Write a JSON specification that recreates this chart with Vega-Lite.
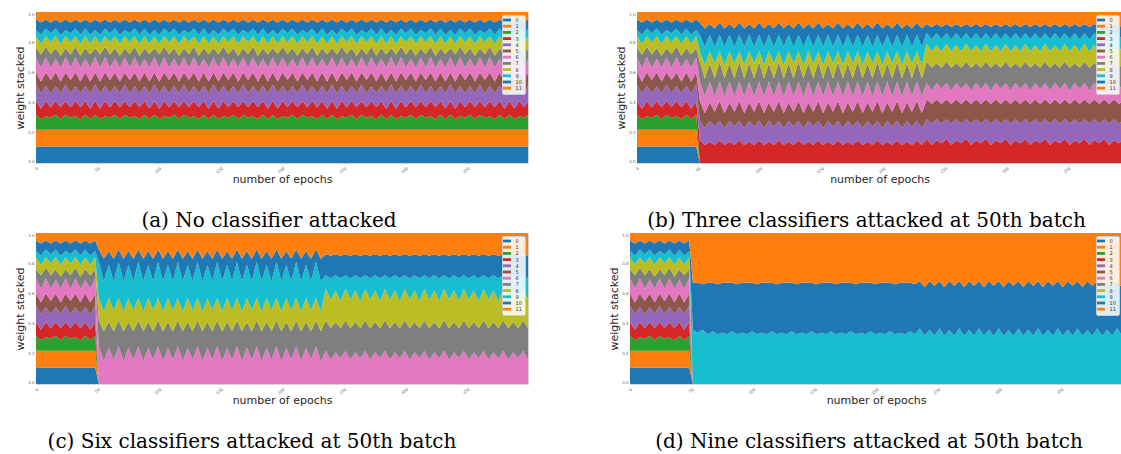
{
"$schema": "https://vega.github.io/schema/vega-lite/v6.json",
"autosize": {"type": "pad"},
"padding": {"left": 13, "top": 11, "right": 0, "bottom": 0},
"background": "white",
"data": {"values": [
{"p":"a","t":0,"a":11,"b":11,"c":10,"d":9,"e":11,"f":8,"g":10,"h":6,"i":8,"j":4,"k":7,"l":5},
{"p":"a","t":4,"a":11,"b":11,"c":7,"d":7,"e":10,"f":8,"g":9,"h":9,"i":7,"j":6,"k":8,"l":7},
{"p":"a","t":8,"a":11,"b":11,"c":9,"d":10,"e":10,"f":9,"g":10,"h":7,"i":7,"j":5,"k":6,"l":5},
{"p":"a","t":12,"a":11,"b":11,"c":8,"d":7,"e":9,"f":9,"g":8,"h":9,"i":8,"j":6,"k":7,"l":7},
{"p":"a","t":16,"a":11,"b":11,"c":10,"d":9,"e":10,"f":9,"g":9,"h":7,"i":8,"j":5,"k":6,"l":5},
{"p":"a","t":20,"a":11,"b":11,"c":7,"d":8,"e":9,"f":8,"g":9,"h":8,"i":8,"j":6,"k":8,"l":7},
{"p":"a","t":24,"a":11,"b":11,"c":10,"d":9,"e":11,"f":8,"g":10,"h":6,"i":8,"j":4,"k":7,"l":5},
{"p":"a","t":28,"a":11,"b":11,"c":8,"d":7,"e":9,"f":9,"g":8,"h":9,"i":8,"j":6,"k":7,"l":7},
{"p":"a","t":32,"a":11,"b":11,"c":9,"d":10,"e":10,"f":9,"g":10,"h":7,"i":7,"j":5,"k":6,"l":5},
{"p":"a","t":36,"a":11,"b":11,"c":7,"d":8,"e":9,"f":8,"g":9,"h":8,"i":8,"j":6,"k":8,"l":7},
{"p":"a","t":40,"a":11,"b":11,"c":10,"d":9,"e":10,"f":9,"g":9,"h":7,"i":8,"j":5,"k":6,"l":5},
{"p":"a","t":44,"a":11,"b":11,"c":7,"d":7,"e":10,"f":8,"g":9,"h":9,"i":7,"j":6,"k":8,"l":7},
{"p":"a","t":48,"a":11,"b":11,"c":10,"d":9,"e":11,"f":8,"g":10,"h":6,"i":8,"j":4,"k":7,"l":5},
{"p":"a","t":52,"a":11,"b":11,"c":7,"d":7,"e":10,"f":8,"g":9,"h":9,"i":7,"j":6,"k":8,"l":7},
{"p":"a","t":56,"a":11,"b":11,"c":9,"d":10,"e":10,"f":9,"g":10,"h":7,"i":7,"j":5,"k":6,"l":5},
{"p":"a","t":60,"a":11,"b":11,"c":8,"d":7,"e":9,"f":9,"g":8,"h":9,"i":8,"j":6,"k":7,"l":7},
{"p":"a","t":64,"a":11,"b":11,"c":10,"d":9,"e":10,"f":9,"g":9,"h":7,"i":8,"j":5,"k":6,"l":5},
{"p":"a","t":68,"a":11,"b":11,"c":7,"d":8,"e":9,"f":8,"g":9,"h":8,"i":8,"j":6,"k":8,"l":7},
{"p":"a","t":72,"a":11,"b":11,"c":10,"d":9,"e":11,"f":8,"g":10,"h":6,"i":8,"j":4,"k":7,"l":5},
{"p":"a","t":76,"a":11,"b":11,"c":8,"d":7,"e":9,"f":9,"g":8,"h":9,"i":8,"j":6,"k":7,"l":7},
{"p":"a","t":80,"a":11,"b":11,"c":9,"d":10,"e":10,"f":9,"g":10,"h":7,"i":7,"j":5,"k":6,"l":5},
{"p":"a","t":84,"a":11,"b":11,"c":7,"d":8,"e":9,"f":8,"g":9,"h":8,"i":8,"j":6,"k":8,"l":7},
{"p":"a","t":88,"a":11,"b":11,"c":10,"d":9,"e":10,"f":9,"g":9,"h":7,"i":8,"j":5,"k":6,"l":5},
{"p":"a","t":92,"a":11,"b":11,"c":7,"d":7,"e":10,"f":8,"g":9,"h":9,"i":7,"j":6,"k":8,"l":7},
{"p":"a","t":96,"a":11,"b":11,"c":10,"d":9,"e":11,"f":8,"g":10,"h":6,"i":8,"j":4,"k":7,"l":5},
{"p":"a","t":100,"a":11,"b":11,"c":7,"d":7,"e":10,"f":8,"g":9,"h":9,"i":7,"j":6,"k":8,"l":7},
{"p":"a","t":104,"a":11,"b":11,"c":9,"d":10,"e":10,"f":9,"g":10,"h":7,"i":7,"j":5,"k":6,"l":5},
{"p":"a","t":108,"a":11,"b":11,"c":8,"d":7,"e":9,"f":9,"g":8,"h":9,"i":8,"j":6,"k":7,"l":7},
{"p":"a","t":112,"a":11,"b":11,"c":10,"d":9,"e":10,"f":9,"g":9,"h":7,"i":8,"j":5,"k":6,"l":5},
{"p":"a","t":116,"a":11,"b":11,"c":7,"d":8,"e":9,"f":8,"g":9,"h":8,"i":8,"j":6,"k":8,"l":7},
{"p":"a","t":120,"a":11,"b":11,"c":10,"d":9,"e":11,"f":8,"g":10,"h":6,"i":8,"j":4,"k":7,"l":5},
{"p":"a","t":124,"a":11,"b":11,"c":8,"d":7,"e":9,"f":9,"g":8,"h":9,"i":8,"j":6,"k":7,"l":7},
{"p":"a","t":128,"a":11,"b":11,"c":9,"d":10,"e":10,"f":9,"g":10,"h":7,"i":7,"j":5,"k":6,"l":5},
{"p":"a","t":132,"a":11,"b":11,"c":7,"d":8,"e":9,"f":8,"g":9,"h":8,"i":8,"j":6,"k":8,"l":7},
{"p":"a","t":136,"a":11,"b":11,"c":10,"d":9,"e":10,"f":9,"g":9,"h":7,"i":8,"j":5,"k":6,"l":5},
{"p":"a","t":140,"a":11,"b":11,"c":7,"d":7,"e":10,"f":8,"g":9,"h":9,"i":7,"j":6,"k":8,"l":7},
{"p":"a","t":144,"a":11,"b":11,"c":10,"d":9,"e":11,"f":8,"g":10,"h":6,"i":8,"j":4,"k":7,"l":5},
{"p":"a","t":148,"a":11,"b":11,"c":7,"d":7,"e":10,"f":8,"g":9,"h":9,"i":7,"j":6,"k":8,"l":7},
{"p":"a","t":152,"a":11,"b":11,"c":9,"d":10,"e":10,"f":9,"g":10,"h":7,"i":7,"j":5,"k":6,"l":5},
{"p":"a","t":156,"a":11,"b":11,"c":8,"d":7,"e":9,"f":9,"g":8,"h":9,"i":8,"j":6,"k":7,"l":7},
{"p":"a","t":160,"a":11,"b":11,"c":10,"d":9,"e":10,"f":9,"g":9,"h":7,"i":8,"j":5,"k":6,"l":5},
{"p":"a","t":164,"a":11,"b":11,"c":7,"d":8,"e":9,"f":8,"g":9,"h":8,"i":8,"j":6,"k":8,"l":7},
{"p":"a","t":168,"a":11,"b":11,"c":10,"d":9,"e":11,"f":8,"g":10,"h":6,"i":8,"j":4,"k":7,"l":5},
{"p":"a","t":172,"a":11,"b":11,"c":8,"d":7,"e":9,"f":9,"g":8,"h":9,"i":8,"j":6,"k":7,"l":7},
{"p":"a","t":176,"a":11,"b":11,"c":9,"d":10,"e":10,"f":9,"g":10,"h":7,"i":7,"j":5,"k":6,"l":5},
{"p":"a","t":180,"a":11,"b":11,"c":7,"d":8,"e":9,"f":8,"g":9,"h":8,"i":8,"j":6,"k":8,"l":7},
{"p":"a","t":184,"a":11,"b":11,"c":10,"d":9,"e":10,"f":9,"g":9,"h":7,"i":8,"j":5,"k":6,"l":5},
{"p":"a","t":188,"a":11,"b":11,"c":7,"d":7,"e":10,"f":8,"g":9,"h":9,"i":7,"j":6,"k":8,"l":7},
{"p":"a","t":192,"a":11,"b":11,"c":10,"d":9,"e":11,"f":8,"g":10,"h":6,"i":8,"j":4,"k":7,"l":5},
{"p":"a","t":196,"a":11,"b":11,"c":7,"d":7,"e":10,"f":8,"g":9,"h":9,"i":7,"j":6,"k":8,"l":7},
{"p":"a","t":200,"a":11,"b":11,"c":9,"d":10,"e":10,"f":9,"g":10,"h":7,"i":7,"j":5,"k":6,"l":5},
{"p":"a","t":204,"a":11,"b":11,"c":8,"d":7,"e":9,"f":9,"g":8,"h":9,"i":8,"j":6,"k":7,"l":7},
{"p":"a","t":208,"a":11,"b":11,"c":10,"d":9,"e":10,"f":9,"g":9,"h":7,"i":8,"j":5,"k":6,"l":5},
{"p":"a","t":212,"a":11,"b":11,"c":7,"d":8,"e":9,"f":8,"g":9,"h":8,"i":8,"j":6,"k":8,"l":7},
{"p":"a","t":216,"a":11,"b":11,"c":10,"d":9,"e":11,"f":8,"g":10,"h":6,"i":8,"j":4,"k":7,"l":5},
{"p":"a","t":220,"a":11,"b":11,"c":8,"d":7,"e":9,"f":9,"g":8,"h":9,"i":8,"j":6,"k":7,"l":7},
{"p":"a","t":224,"a":11,"b":11,"c":9,"d":10,"e":10,"f":9,"g":10,"h":7,"i":7,"j":5,"k":6,"l":5},
{"p":"a","t":228,"a":11,"b":11,"c":7,"d":8,"e":9,"f":8,"g":9,"h":8,"i":8,"j":6,"k":8,"l":7},
{"p":"a","t":232,"a":11,"b":11,"c":10,"d":9,"e":10,"f":9,"g":9,"h":7,"i":8,"j":5,"k":6,"l":5},
{"p":"a","t":236,"a":11,"b":11,"c":7,"d":7,"e":10,"f":8,"g":9,"h":9,"i":7,"j":6,"k":8,"l":7},
{"p":"a","t":240,"a":11,"b":11,"c":10,"d":9,"e":11,"f":8,"g":10,"h":6,"i":8,"j":4,"k":7,"l":5},
{"p":"a","t":244,"a":11,"b":11,"c":7,"d":7,"e":10,"f":8,"g":9,"h":9,"i":7,"j":6,"k":8,"l":7},
{"p":"a","t":248,"a":11,"b":11,"c":9,"d":10,"e":10,"f":9,"g":10,"h":7,"i":7,"j":5,"k":6,"l":5},
{"p":"a","t":252,"a":11,"b":11,"c":8,"d":7,"e":9,"f":9,"g":8,"h":9,"i":8,"j":6,"k":7,"l":7},
{"p":"a","t":256,"a":11,"b":11,"c":10,"d":9,"e":10,"f":9,"g":9,"h":7,"i":8,"j":5,"k":6,"l":5},
{"p":"a","t":260,"a":11,"b":11,"c":7,"d":8,"e":9,"f":8,"g":9,"h":8,"i":8,"j":6,"k":8,"l":7},
{"p":"a","t":264,"a":11,"b":11,"c":10,"d":9,"e":11,"f":8,"g":10,"h":6,"i":8,"j":4,"k":7,"l":5},
{"p":"a","t":268,"a":11,"b":11,"c":8,"d":7,"e":9,"f":9,"g":8,"h":9,"i":8,"j":6,"k":7,"l":7},
{"p":"a","t":272,"a":11,"b":11,"c":9,"d":10,"e":10,"f":9,"g":10,"h":7,"i":7,"j":5,"k":6,"l":5},
{"p":"a","t":276,"a":11,"b":11,"c":7,"d":8,"e":9,"f":8,"g":9,"h":8,"i":8,"j":6,"k":8,"l":7},
{"p":"a","t":280,"a":11,"b":11,"c":10,"d":9,"e":10,"f":9,"g":9,"h":7,"i":8,"j":5,"k":6,"l":5},
{"p":"a","t":284,"a":11,"b":11,"c":7,"d":7,"e":10,"f":8,"g":9,"h":9,"i":7,"j":6,"k":8,"l":7},
{"p":"a","t":288,"a":11,"b":11,"c":10,"d":9,"e":11,"f":8,"g":10,"h":6,"i":8,"j":4,"k":7,"l":5},
{"p":"a","t":292,"a":11,"b":11,"c":7,"d":7,"e":10,"f":8,"g":9,"h":9,"i":7,"j":6,"k":8,"l":7},
{"p":"a","t":296,"a":11,"b":11,"c":9,"d":10,"e":10,"f":9,"g":10,"h":7,"i":7,"j":5,"k":6,"l":5},
{"p":"a","t":300,"a":11,"b":11,"c":8,"d":7,"e":9,"f":9,"g":8,"h":9,"i":8,"j":6,"k":7,"l":7},
{"p":"a","t":304,"a":11,"b":11,"c":10,"d":9,"e":10,"f":9,"g":9,"h":7,"i":8,"j":5,"k":6,"l":5},
{"p":"a","t":308,"a":11,"b":11,"c":7,"d":8,"e":9,"f":8,"g":9,"h":8,"i":8,"j":6,"k":8,"l":7},
{"p":"a","t":312,"a":11,"b":11,"c":10,"d":9,"e":11,"f":8,"g":10,"h":6,"i":8,"j":4,"k":7,"l":5},
{"p":"a","t":316,"a":11,"b":11,"c":8,"d":7,"e":9,"f":9,"g":8,"h":9,"i":8,"j":6,"k":7,"l":7},
{"p":"a","t":320,"a":11,"b":11,"c":9,"d":10,"e":10,"f":9,"g":10,"h":7,"i":7,"j":5,"k":6,"l":5},
{"p":"a","t":324,"a":11,"b":11,"c":7,"d":8,"e":9,"f":8,"g":9,"h":8,"i":8,"j":6,"k":8,"l":7},
{"p":"a","t":328,"a":11,"b":11,"c":10,"d":9,"e":10,"f":9,"g":9,"h":7,"i":8,"j":5,"k":6,"l":5},
{"p":"a","t":332,"a":11,"b":11,"c":7,"d":7,"e":10,"f":8,"g":9,"h":9,"i":7,"j":6,"k":8,"l":7},
{"p":"a","t":336,"a":11,"b":11,"c":10,"d":9,"e":11,"f":8,"g":10,"h":6,"i":8,"j":4,"k":7,"l":5},
{"p":"a","t":340,"a":11,"b":11,"c":7,"d":7,"e":10,"f":8,"g":9,"h":9,"i":7,"j":6,"k":8,"l":7},
{"p":"a","t":344,"a":11,"b":11,"c":9,"d":10,"e":10,"f":9,"g":10,"h":7,"i":7,"j":5,"k":6,"l":5},
{"p":"a","t":348,"a":11,"b":11,"c":8,"d":7,"e":9,"f":9,"g":8,"h":9,"i":8,"j":6,"k":7,"l":7},
{"p":"a","t":352,"a":11,"b":11,"c":10,"d":9,"e":10,"f":9,"g":9,"h":7,"i":8,"j":5,"k":6,"l":5},
{"p":"a","t":356,"a":11,"b":11,"c":7,"d":8,"e":9,"f":8,"g":9,"h":8,"i":8,"j":6,"k":8,"l":7},
{"p":"a","t":360,"a":11,"b":11,"c":10,"d":9,"e":11,"f":8,"g":10,"h":6,"i":8,"j":4,"k":7,"l":5},
{"p":"a","t":364,"a":11,"b":11,"c":8,"d":7,"e":9,"f":9,"g":8,"h":9,"i":8,"j":6,"k":7,"l":7},
{"p":"a","t":368,"a":11,"b":11,"c":9,"d":10,"e":10,"f":9,"g":10,"h":7,"i":7,"j":5,"k":6,"l":5},
{"p":"a","t":372,"a":11,"b":11,"c":7,"d":8,"e":9,"f":8,"g":9,"h":8,"i":8,"j":6,"k":8,"l":7},
{"p":"a","t":376,"a":11,"b":11,"c":10,"d":9,"e":10,"f":9,"g":9,"h":7,"i":8,"j":5,"k":6,"l":5},
{"p":"a","t":380,"a":11,"b":11,"c":7,"d":7,"e":10,"f":8,"g":9,"h":9,"i":7,"j":6,"k":8,"l":7},
{"p":"a","t":384,"a":11,"b":11,"c":10,"d":9,"e":11,"f":8,"g":10,"h":6,"i":8,"j":4,"k":7,"l":5},
{"p":"a","t":388,"a":11,"b":11,"c":7,"d":7,"e":10,"f":8,"g":9,"h":9,"i":7,"j":6,"k":8,"l":7},
{"p":"a","t":392,"a":11,"b":11,"c":9,"d":10,"e":10,"f":9,"g":10,"h":7,"i":7,"j":5,"k":6,"l":5},
{"p":"a","t":396,"a":11,"b":11,"c":8,"d":7,"e":9,"f":9,"g":8,"h":9,"i":8,"j":6,"k":7,"l":7},
{"p":"a","t":399,"a":11,"b":11,"c":10,"d":9,"e":10,"f":9,"g":9,"h":7,"i":8,"j":5,"k":6,"l":5},
{"p":"b","t":51,"d":15,"e":13,"f":13,"g":13,"h":13,"i":7,"j":11,"k":8,"l":7},
{"p":"b","t":55,"d":12,"e":11,"f":10,"g":11,"h":12,"i":9,"j":12,"k":12,"l":11},
{"p":"b","t":59,"d":14,"e":14,"f":12,"g":14,"h":12,"i":8,"j":11,"k":7,"l":8},
{"p":"b","t":63,"d":12,"e":12,"f":10,"g":10,"h":12,"i":10,"j":11,"k":12,"l":11},
{"p":"b","t":67,"d":15,"e":13,"f":13,"g":13,"h":13,"i":7,"j":11,"k":8,"l":7},
{"p":"b","t":71,"d":12,"e":11,"f":10,"g":11,"h":12,"i":9,"j":12,"k":12,"l":11},
{"p":"b","t":75,"d":14,"e":14,"f":12,"g":14,"h":12,"i":8,"j":11,"k":7,"l":8},
{"p":"b","t":79,"d":12,"e":12,"f":10,"g":10,"h":12,"i":10,"j":11,"k":12,"l":11},
{"p":"b","t":83,"d":15,"e":13,"f":13,"g":13,"h":13,"i":7,"j":11,"k":8,"l":7},
{"p":"b","t":87,"d":12,"e":11,"f":10,"g":11,"h":12,"i":9,"j":12,"k":12,"l":11},
{"p":"b","t":91,"d":14,"e":14,"f":12,"g":14,"h":12,"i":8,"j":11,"k":7,"l":8},
{"p":"b","t":95,"d":12,"e":12,"f":10,"g":10,"h":12,"i":10,"j":11,"k":12,"l":11},
{"p":"b","t":99,"d":15,"e":13,"f":13,"g":13,"h":13,"i":7,"j":11,"k":8,"l":7},
{"p":"b","t":103,"d":12,"e":11,"f":10,"g":11,"h":12,"i":9,"j":12,"k":12,"l":11},
{"p":"b","t":107,"d":14,"e":14,"f":12,"g":14,"h":12,"i":8,"j":11,"k":7,"l":8},
{"p":"b","t":111,"d":12,"e":12,"f":10,"g":10,"h":12,"i":10,"j":11,"k":12,"l":11},
{"p":"b","t":115,"d":15,"e":13,"f":13,"g":13,"h":13,"i":7,"j":11,"k":8,"l":7},
{"p":"b","t":119,"d":12,"e":11,"f":10,"g":11,"h":12,"i":9,"j":12,"k":12,"l":11},
{"p":"b","t":123,"d":14,"e":14,"f":12,"g":14,"h":12,"i":8,"j":11,"k":7,"l":8},
{"p":"b","t":127,"d":12,"e":12,"f":10,"g":10,"h":12,"i":10,"j":11,"k":12,"l":11},
{"p":"b","t":131,"d":15,"e":13,"f":13,"g":13,"h":13,"i":7,"j":11,"k":8,"l":7},
{"p":"b","t":135,"d":12,"e":11,"f":10,"g":11,"h":12,"i":9,"j":12,"k":12,"l":11},
{"p":"b","t":139,"d":14,"e":14,"f":12,"g":14,"h":12,"i":8,"j":11,"k":7,"l":8},
{"p":"b","t":143,"d":12,"e":12,"f":10,"g":10,"h":12,"i":10,"j":11,"k":12,"l":11},
{"p":"b","t":147,"d":15,"e":13,"f":13,"g":13,"h":13,"i":7,"j":11,"k":8,"l":7},
{"p":"b","t":151,"d":12,"e":11,"f":10,"g":11,"h":12,"i":9,"j":12,"k":12,"l":11},
{"p":"b","t":155,"d":14,"e":14,"f":12,"g":14,"h":12,"i":8,"j":11,"k":7,"l":8},
{"p":"b","t":159,"d":12,"e":12,"f":10,"g":10,"h":12,"i":10,"j":11,"k":12,"l":11},
{"p":"b","t":163,"d":15,"e":13,"f":13,"g":13,"h":13,"i":7,"j":11,"k":8,"l":7},
{"p":"b","t":167,"d":12,"e":11,"f":10,"g":11,"h":12,"i":9,"j":12,"k":12,"l":11},
{"p":"b","t":171,"d":14,"e":14,"f":12,"g":14,"h":12,"i":8,"j":11,"k":7,"l":8},
{"p":"b","t":175,"d":12,"e":12,"f":10,"g":10,"h":12,"i":10,"j":11,"k":12,"l":11},
{"p":"b","t":179,"d":15,"e":13,"f":13,"g":13,"h":13,"i":7,"j":11,"k":8,"l":7},
{"p":"b","t":183,"d":12,"e":11,"f":10,"g":11,"h":12,"i":9,"j":12,"k":12,"l":11},
{"p":"b","t":187,"d":14,"e":14,"f":12,"g":14,"h":12,"i":8,"j":11,"k":7,"l":8},
{"p":"b","t":191,"d":12,"e":12,"f":10,"g":10,"h":12,"i":10,"j":11,"k":12,"l":11},
{"p":"b","t":195,"d":15,"e":13,"f":13,"g":13,"h":13,"i":7,"j":11,"k":8,"l":7},
{"p":"b","t":199,"d":12,"e":11,"f":10,"g":11,"h":12,"i":9,"j":12,"k":12,"l":11},
{"p":"b","t":203,"d":14,"e":14,"f":12,"g":14,"h":12,"i":8,"j":11,"k":7,"l":8},
{"p":"b","t":207,"d":12,"e":12,"f":10,"g":10,"h":12,"i":10,"j":11,"k":12,"l":11},
{"p":"b","t":211,"d":15,"e":13,"f":13,"g":13,"h":13,"i":7,"j":11,"k":8,"l":7},
{"p":"b","t":215,"d":12,"e":11,"f":10,"g":11,"h":12,"i":9,"j":12,"k":12,"l":11},
{"p":"b","t":219,"d":14,"e":14,"f":12,"g":14,"h":12,"i":8,"j":11,"k":7,"l":8},
{"p":"b","t":223,"d":12,"e":12,"f":10,"g":10,"h":12,"i":10,"j":11,"k":12,"l":11},
{"p":"b","t":227,"d":15,"e":13,"f":13,"g":13,"h":13,"i":7,"j":11,"k":8,"l":7},
{"p":"b","t":231,"d":12,"e":11,"f":10,"g":11,"h":12,"i":9,"j":12,"k":12,"l":11},
{"p":"b","t":235,"d":16,"e":13,"f":13,"g":11,"h":14,"i":12,"j":7,"k":6,"l":8},
{"p":"b","t":239,"d":12,"e":14,"f":13,"g":9,"h":15,"i":11,"j":8,"k":8,"l":10},
{"p":"b","t":243,"d":15,"e":14,"f":13,"g":11,"h":13,"i":12,"j":8,"k":6,"l":8},
{"p":"b","t":247,"d":13,"e":13,"f":13,"g":10,"h":14,"i":11,"j":8,"k":8,"l":10},
{"p":"b","t":251,"d":16,"e":13,"f":13,"g":11,"h":14,"i":12,"j":7,"k":6,"l":8},
{"p":"b","t":255,"d":12,"e":14,"f":13,"g":9,"h":15,"i":11,"j":8,"k":8,"l":10},
{"p":"b","t":259,"d":15,"e":14,"f":13,"g":11,"h":13,"i":12,"j":8,"k":6,"l":8},
{"p":"b","t":263,"d":13,"e":13,"f":13,"g":10,"h":14,"i":11,"j":8,"k":8,"l":10},
{"p":"b","t":267,"d":16,"e":13,"f":13,"g":11,"h":14,"i":12,"j":7,"k":6,"l":8},
{"p":"b","t":271,"d":12,"e":14,"f":13,"g":9,"h":15,"i":11,"j":8,"k":8,"l":10},
{"p":"b","t":275,"d":15,"e":14,"f":13,"g":11,"h":13,"i":12,"j":8,"k":6,"l":8},
{"p":"b","t":279,"d":13,"e":13,"f":13,"g":10,"h":14,"i":11,"j":8,"k":8,"l":10},
{"p":"b","t":283,"d":16,"e":13,"f":13,"g":11,"h":14,"i":12,"j":7,"k":6,"l":8},
{"p":"b","t":287,"d":12,"e":14,"f":13,"g":9,"h":15,"i":11,"j":8,"k":8,"l":10},
{"p":"b","t":291,"d":15,"e":14,"f":13,"g":11,"h":13,"i":12,"j":8,"k":6,"l":8},
{"p":"b","t":295,"d":13,"e":13,"f":13,"g":10,"h":14,"i":11,"j":8,"k":8,"l":10},
{"p":"b","t":299,"d":16,"e":13,"f":13,"g":11,"h":14,"i":12,"j":7,"k":6,"l":8},
{"p":"b","t":303,"d":12,"e":14,"f":13,"g":9,"h":15,"i":11,"j":8,"k":8,"l":10},
{"p":"b","t":307,"d":15,"e":14,"f":13,"g":11,"h":13,"i":12,"j":8,"k":6,"l":8},
{"p":"b","t":311,"d":13,"e":13,"f":13,"g":10,"h":14,"i":11,"j":8,"k":8,"l":10},
{"p":"b","t":315,"d":16,"e":13,"f":13,"g":11,"h":14,"i":12,"j":7,"k":6,"l":8},
{"p":"b","t":319,"d":12,"e":14,"f":13,"g":9,"h":15,"i":11,"j":8,"k":8,"l":10},
{"p":"b","t":323,"d":15,"e":14,"f":13,"g":11,"h":13,"i":12,"j":8,"k":6,"l":8},
{"p":"b","t":327,"d":13,"e":13,"f":13,"g":10,"h":14,"i":11,"j":8,"k":8,"l":10},
{"p":"b","t":331,"d":16,"e":13,"f":13,"g":11,"h":14,"i":12,"j":7,"k":6,"l":8},
{"p":"b","t":335,"d":12,"e":14,"f":13,"g":9,"h":15,"i":11,"j":8,"k":8,"l":10},
{"p":"b","t":339,"d":15,"e":14,"f":13,"g":11,"h":13,"i":12,"j":8,"k":6,"l":8},
{"p":"b","t":343,"d":13,"e":13,"f":13,"g":10,"h":14,"i":11,"j":8,"k":8,"l":10},
{"p":"b","t":347,"d":16,"e":13,"f":13,"g":11,"h":14,"i":12,"j":7,"k":6,"l":8},
{"p":"b","t":351,"d":12,"e":14,"f":13,"g":9,"h":15,"i":11,"j":8,"k":8,"l":10},
{"p":"b","t":355,"d":15,"e":14,"f":13,"g":11,"h":13,"i":12,"j":8,"k":6,"l":8},
{"p":"b","t":359,"d":13,"e":13,"f":13,"g":10,"h":14,"i":11,"j":8,"k":8,"l":10},
{"p":"b","t":363,"d":16,"e":13,"f":13,"g":11,"h":14,"i":12,"j":7,"k":6,"l":8},
{"p":"b","t":367,"d":12,"e":14,"f":13,"g":9,"h":15,"i":11,"j":8,"k":8,"l":10},
{"p":"b","t":371,"d":15,"e":14,"f":13,"g":11,"h":13,"i":12,"j":8,"k":6,"l":8},
{"p":"b","t":375,"d":13,"e":13,"f":13,"g":10,"h":14,"i":11,"j":8,"k":8,"l":10},
{"p":"b","t":379,"d":16,"e":13,"f":13,"g":11,"h":14,"i":12,"j":7,"k":6,"l":8},
{"p":"b","t":383,"d":12,"e":14,"f":13,"g":9,"h":15,"i":11,"j":8,"k":8,"l":10},
{"p":"b","t":387,"d":15,"e":14,"f":13,"g":11,"h":13,"i":12,"j":8,"k":6,"l":8},
{"p":"b","t":391,"d":13,"e":13,"f":13,"g":10,"h":14,"i":11,"j":8,"k":8,"l":10},
{"p":"b","t":395,"d":16,"e":13,"f":13,"g":11,"h":14,"i":12,"j":7,"k":6,"l":8},
{"p":"b","t":399,"d":12,"e":14,"f":13,"g":9,"h":15,"i":11,"j":8,"k":8,"l":10},
{"p":"c","t":51,"g":25,"h":17,"i":15,"j":24,"k":8,"l":11},
{"p":"c","t":55,"g":15,"h":20,"i":13,"j":20,"k":15,"l":17},
{"p":"c","t":59,"g":24,"h":17,"i":16,"j":22,"k":9,"l":12},
{"p":"c","t":63,"g":16,"h":19,"i":14,"j":19,"k":15,"l":17},
{"p":"c","t":67,"g":25,"h":17,"i":15,"j":24,"k":8,"l":11},
{"p":"c","t":71,"g":15,"h":20,"i":13,"j":20,"k":15,"l":17},
{"p":"c","t":75,"g":24,"h":17,"i":16,"j":22,"k":9,"l":12},
{"p":"c","t":79,"g":16,"h":19,"i":14,"j":19,"k":15,"l":17},
{"p":"c","t":83,"g":25,"h":17,"i":15,"j":24,"k":8,"l":11},
{"p":"c","t":87,"g":15,"h":20,"i":13,"j":20,"k":15,"l":17},
{"p":"c","t":91,"g":24,"h":17,"i":16,"j":22,"k":9,"l":12},
{"p":"c","t":95,"g":16,"h":19,"i":14,"j":19,"k":15,"l":17},
{"p":"c","t":99,"g":25,"h":17,"i":15,"j":24,"k":8,"l":11},
{"p":"c","t":103,"g":15,"h":20,"i":13,"j":20,"k":15,"l":17},
{"p":"c","t":107,"g":24,"h":17,"i":16,"j":22,"k":9,"l":12},
{"p":"c","t":111,"g":16,"h":19,"i":14,"j":19,"k":15,"l":17},
{"p":"c","t":115,"g":25,"h":17,"i":15,"j":24,"k":8,"l":11},
{"p":"c","t":119,"g":15,"h":20,"i":13,"j":20,"k":15,"l":17},
{"p":"c","t":123,"g":24,"h":17,"i":16,"j":22,"k":9,"l":12},
{"p":"c","t":127,"g":16,"h":19,"i":14,"j":19,"k":15,"l":17},
{"p":"c","t":131,"g":25,"h":17,"i":15,"j":24,"k":8,"l":11},
{"p":"c","t":135,"g":15,"h":20,"i":13,"j":20,"k":15,"l":17},
{"p":"c","t":139,"g":24,"h":17,"i":16,"j":22,"k":9,"l":12},
{"p":"c","t":143,"g":16,"h":19,"i":14,"j":19,"k":15,"l":17},
{"p":"c","t":147,"g":25,"h":17,"i":15,"j":24,"k":8,"l":11},
{"p":"c","t":151,"g":15,"h":20,"i":13,"j":20,"k":15,"l":17},
{"p":"c","t":155,"g":24,"h":17,"i":16,"j":22,"k":9,"l":12},
{"p":"c","t":159,"g":16,"h":19,"i":14,"j":19,"k":15,"l":17},
{"p":"c","t":163,"g":25,"h":17,"i":15,"j":24,"k":8,"l":11},
{"p":"c","t":167,"g":15,"h":20,"i":13,"j":20,"k":15,"l":17},
{"p":"c","t":171,"g":24,"h":17,"i":16,"j":22,"k":9,"l":12},
{"p":"c","t":175,"g":16,"h":19,"i":14,"j":19,"k":15,"l":17},
{"p":"c","t":179,"g":25,"h":17,"i":15,"j":24,"k":8,"l":11},
{"p":"c","t":183,"g":15,"h":20,"i":13,"j":20,"k":15,"l":17},
{"p":"c","t":187,"g":24,"h":17,"i":16,"j":22,"k":9,"l":12},
{"p":"c","t":191,"g":16,"h":19,"i":14,"j":19,"k":15,"l":17},
{"p":"c","t":195,"g":25,"h":17,"i":15,"j":24,"k":8,"l":11},
{"p":"c","t":199,"g":15,"h":20,"i":13,"j":20,"k":15,"l":17},
{"p":"c","t":203,"g":24,"h":17,"i":16,"j":22,"k":9,"l":12},
{"p":"c","t":207,"g":16,"h":19,"i":14,"j":19,"k":15,"l":17},
{"p":"c","t":211,"g":25,"h":17,"i":15,"j":24,"k":8,"l":11},
{"p":"c","t":215,"g":15,"h":20,"i":13,"j":20,"k":15,"l":17},
{"p":"c","t":219,"g":24,"h":17,"i":16,"j":22,"k":9,"l":12},
{"p":"c","t":223,"g":16,"h":19,"i":14,"j":19,"k":15,"l":17},
{"p":"c","t":227,"g":25,"h":17,"i":15,"j":24,"k":8,"l":11},
{"p":"c","t":231,"g":15,"h":20,"i":13,"j":20,"k":15,"l":17},
{"p":"c","t":235,"g":22,"h":20,"i":21,"j":9,"k":14,"l":14},
{"p":"c","t":239,"g":16,"h":21,"i":19,"j":14,"k":15,"l":15},
{"p":"c","t":243,"g":21,"h":20,"i":21,"j":10,"k":14,"l":14},
{"p":"c","t":247,"g":17,"h":20,"i":18,"j":15,"k":15,"l":15},
{"p":"c","t":251,"g":22,"h":20,"i":21,"j":9,"k":14,"l":14},
{"p":"c","t":255,"g":16,"h":21,"i":19,"j":14,"k":15,"l":15},
{"p":"c","t":259,"g":21,"h":20,"i":21,"j":10,"k":14,"l":14},
{"p":"c","t":263,"g":17,"h":20,"i":18,"j":15,"k":15,"l":15},
{"p":"c","t":267,"g":22,"h":20,"i":21,"j":9,"k":14,"l":14},
{"p":"c","t":271,"g":16,"h":21,"i":19,"j":14,"k":15,"l":15},
{"p":"c","t":275,"g":21,"h":20,"i":21,"j":10,"k":14,"l":14},
{"p":"c","t":279,"g":17,"h":20,"i":18,"j":15,"k":15,"l":15},
{"p":"c","t":283,"g":22,"h":20,"i":21,"j":9,"k":14,"l":14},
{"p":"c","t":287,"g":16,"h":21,"i":19,"j":14,"k":15,"l":15},
{"p":"c","t":291,"g":21,"h":20,"i":21,"j":10,"k":14,"l":14},
{"p":"c","t":295,"g":17,"h":20,"i":18,"j":15,"k":15,"l":15},
{"p":"c","t":299,"g":22,"h":20,"i":21,"j":9,"k":14,"l":14},
{"p":"c","t":303,"g":16,"h":21,"i":19,"j":14,"k":15,"l":15},
{"p":"c","t":307,"g":21,"h":20,"i":21,"j":10,"k":14,"l":14},
{"p":"c","t":311,"g":17,"h":20,"i":18,"j":15,"k":15,"l":15},
{"p":"c","t":315,"g":22,"h":20,"i":21,"j":9,"k":14,"l":14},
{"p":"c","t":319,"g":16,"h":21,"i":19,"j":14,"k":15,"l":15},
{"p":"c","t":323,"g":21,"h":20,"i":21,"j":10,"k":14,"l":14},
{"p":"c","t":327,"g":17,"h":20,"i":18,"j":15,"k":15,"l":15},
{"p":"c","t":331,"g":22,"h":20,"i":21,"j":9,"k":14,"l":14},
{"p":"c","t":335,"g":16,"h":21,"i":19,"j":14,"k":15,"l":15},
{"p":"c","t":339,"g":21,"h":20,"i":21,"j":10,"k":14,"l":14},
{"p":"c","t":343,"g":17,"h":20,"i":18,"j":15,"k":15,"l":15},
{"p":"c","t":347,"g":22,"h":20,"i":21,"j":9,"k":14,"l":14},
{"p":"c","t":351,"g":16,"h":21,"i":19,"j":14,"k":15,"l":15},
{"p":"c","t":355,"g":21,"h":20,"i":21,"j":10,"k":14,"l":14},
{"p":"c","t":359,"g":17,"h":20,"i":18,"j":15,"k":15,"l":15},
{"p":"c","t":363,"g":22,"h":20,"i":21,"j":9,"k":14,"l":14},
{"p":"c","t":367,"g":16,"h":21,"i":19,"j":14,"k":15,"l":15},
{"p":"c","t":371,"g":21,"h":20,"i":21,"j":10,"k":14,"l":14},
{"p":"c","t":375,"g":17,"h":20,"i":18,"j":15,"k":15,"l":15},
{"p":"c","t":379,"g":22,"h":20,"i":21,"j":9,"k":14,"l":14},
{"p":"c","t":383,"g":16,"h":21,"i":19,"j":14,"k":15,"l":15},
{"p":"c","t":387,"g":21,"h":20,"i":21,"j":10,"k":14,"l":14},
{"p":"c","t":391,"g":17,"h":20,"i":18,"j":15,"k":15,"l":15},
{"p":"c","t":395,"g":22,"h":20,"i":21,"j":9,"k":14,"l":14},
{"p":"c","t":399,"g":16,"h":21,"i":19,"j":14,"k":15,"l":15},
{"p":"d","t":51,"j":36,"k":31,"l":33},
{"p":"d","t":55,"j":34,"k":33,"l":33},
{"p":"d","t":59,"j":36,"k":30,"l":34},
{"p":"d","t":63,"j":33,"k":34,"l":33},
{"p":"d","t":67,"j":35,"k":32,"l":33},
{"p":"d","t":71,"j":33,"k":33,"l":34},
{"p":"d","t":75,"j":34,"k":33,"l":33},
{"p":"d","t":79,"j":33,"k":34,"l":33},
{"p":"d","t":83,"j":35,"k":32,"l":33},
{"p":"d","t":87,"j":33,"k":33,"l":34},
{"p":"d","t":91,"j":34,"k":33,"l":33},
{"p":"d","t":95,"j":33,"k":34,"l":33},
{"p":"d","t":99,"j":35,"k":32,"l":33},
{"p":"d","t":103,"j":33,"k":33,"l":34},
{"p":"d","t":107,"j":34,"k":33,"l":33},
{"p":"d","t":111,"j":33,"k":34,"l":33},
{"p":"d","t":115,"j":35,"k":32,"l":33},
{"p":"d","t":119,"j":33,"k":33,"l":34},
{"p":"d","t":123,"j":34,"k":33,"l":33},
{"p":"d","t":127,"j":33,"k":34,"l":33},
{"p":"d","t":131,"j":35,"k":32,"l":33},
{"p":"d","t":135,"j":33,"k":33,"l":34},
{"p":"d","t":139,"j":34,"k":33,"l":33},
{"p":"d","t":143,"j":33,"k":34,"l":33},
{"p":"d","t":147,"j":35,"k":32,"l":33},
{"p":"d","t":151,"j":33,"k":33,"l":34},
{"p":"d","t":155,"j":34,"k":33,"l":33},
{"p":"d","t":159,"j":33,"k":34,"l":33},
{"p":"d","t":163,"j":35,"k":32,"l":33},
{"p":"d","t":167,"j":33,"k":33,"l":34},
{"p":"d","t":171,"j":34,"k":33,"l":33},
{"p":"d","t":175,"j":33,"k":34,"l":33},
{"p":"d","t":179,"j":35,"k":32,"l":33},
{"p":"d","t":183,"j":33,"k":33,"l":34},
{"p":"d","t":187,"j":34,"k":33,"l":33},
{"p":"d","t":191,"j":33,"k":34,"l":33},
{"p":"d","t":195,"j":35,"k":32,"l":33},
{"p":"d","t":199,"j":33,"k":33,"l":34},
{"p":"d","t":203,"j":34,"k":33,"l":33},
{"p":"d","t":207,"j":33,"k":34,"l":33},
{"p":"d","t":211,"j":35,"k":32,"l":33},
{"p":"d","t":215,"j":33,"k":33,"l":34},
{"p":"d","t":219,"j":34,"k":33,"l":33},
{"p":"d","t":223,"j":33,"k":34,"l":33},
{"p":"d","t":227,"j":35,"k":32,"l":33},
{"p":"d","t":231,"j":33,"k":33,"l":34},
{"p":"d","t":235,"j":37,"k":31,"l":32},
{"p":"d","t":239,"j":32,"k":32,"l":36},
{"p":"d","t":243,"j":36,"k":32,"l":32},
{"p":"d","t":247,"j":32,"k":33,"l":35},
{"p":"d","t":251,"j":37,"k":31,"l":32},
{"p":"d","t":255,"j":32,"k":32,"l":36},
{"p":"d","t":259,"j":36,"k":32,"l":32},
{"p":"d","t":263,"j":32,"k":33,"l":35},
{"p":"d","t":267,"j":37,"k":31,"l":32},
{"p":"d","t":271,"j":32,"k":32,"l":36},
{"p":"d","t":275,"j":36,"k":32,"l":32},
{"p":"d","t":279,"j":32,"k":33,"l":35},
{"p":"d","t":283,"j":37,"k":31,"l":32},
{"p":"d","t":287,"j":32,"k":32,"l":36},
{"p":"d","t":291,"j":36,"k":32,"l":32},
{"p":"d","t":295,"j":32,"k":33,"l":35},
{"p":"d","t":299,"j":37,"k":31,"l":32},
{"p":"d","t":303,"j":32,"k":32,"l":36},
{"p":"d","t":307,"j":36,"k":32,"l":32},
{"p":"d","t":311,"j":32,"k":33,"l":35},
{"p":"d","t":315,"j":37,"k":31,"l":32},
{"p":"d","t":319,"j":32,"k":32,"l":36},
{"p":"d","t":323,"j":36,"k":32,"l":32},
{"p":"d","t":327,"j":32,"k":33,"l":35},
{"p":"d","t":331,"j":37,"k":31,"l":32},
{"p":"d","t":335,"j":32,"k":32,"l":36},
{"p":"d","t":339,"j":36,"k":32,"l":32},
{"p":"d","t":343,"j":32,"k":33,"l":35},
{"p":"d","t":347,"j":37,"k":31,"l":32},
{"p":"d","t":351,"j":32,"k":32,"l":36},
{"p":"d","t":355,"j":36,"k":32,"l":32},
{"p":"d","t":359,"j":32,"k":33,"l":35},
{"p":"d","t":363,"j":37,"k":31,"l":32},
{"p":"d","t":367,"j":32,"k":32,"l":36},
{"p":"d","t":371,"j":36,"k":32,"l":32},
{"p":"d","t":375,"j":32,"k":33,"l":35},
{"p":"d","t":379,"j":37,"k":31,"l":32},
{"p":"d","t":383,"j":32,"k":32,"l":36},
{"p":"d","t":387,"j":36,"k":32,"l":32},
{"p":"d","t":391,"j":32,"k":33,"l":35},
{"p":"d","t":395,"j":37,"k":31,"l":32},
{"p":"d","t":399,"j":32,"k":32,"l":36}
]},
"spacing": 0,
"resolve": {"scale": {"color": "independent"}, "legend": {"color": "independent"}},
"vconcat": [
{
"spacing": 109,
"bounds": "flush",
"resolve": {"scale": {"color": "independent"}, "legend": {"color": "independent"}},
"hconcat": [
{
"width": 492, "height": 151,
"title": {"text": "(a) No classifier attacked", "dx": -13},
"transform": [
{"filter": {"field": "p", "equal": "a"}},
{"fold": ["a","b","c","d","e","f","g","h","i","j","k","l"], "as": ["s","w"]},
{"filter": {"field": "w", "valid": true}}
],
"mark": {"type": "area", "clip": true},
"encoding": {
"x": {"field": "t", "type": "quantitative", "scale": {"domain": [0, 399], "nice": false, "zero": false}, "axis": {"values": [0,50,100,150,200,250,300,350], "title": "number of epochs"}},
"y": {"field": "w", "type": "quantitative", "stack": "normalize", "scale": {"domain": [0, 1], "nice": false}, "axis": {"values": [0,0.2,0.4,0.6,0.8,1], "labelExpr": "format(datum.value, '.1f')", "title": "weight stacked"}},
"color": {"field": "s", "type": "nominal", "scale": {"domain": ["a","b","c","d","e","f","g","h","i","j","k","l"], "range": ["#1f77b4","#ff7f0e","#2ca02c","#d62728","#9467bd","#8c564b","#e377c2","#7f7f7f","#bcbd22","#17becf","#1f77b4","#ff7f0e"]}, "legend": {"title": null, "labelExpr": "indexof('abcdefghijkl', datum.label)"}},
"order": {"field": "s", "type": "ordinal", "sort": "ascending"}
}
},
{
"width": 485, "height": 151,
"title": {"text": "(b) Three classifiers attacked at 50th batch", "dx": -13},
"transform": [
{"filter": {"or": [{"field": "p", "equal": "b"}, {"and": [{"field": "p", "equal": "a"}, {"field": "t", "lte": 48}]}]}},
{"fold": ["a","b","c","d","e","f","g","h","i","j","k","l"], "as": ["s","w"]},
{"filter": {"field": "w", "valid": true}}
],
"mark": {"type": "area", "clip": true},
"encoding": {
"x": {"field": "t", "type": "quantitative", "scale": {"domain": [0, 393.4], "nice": false, "zero": false}, "axis": {"values": [0,50,100,150,200,250,300,350], "title": "number of epochs"}},
"y": {"field": "w", "type": "quantitative", "stack": "normalize", "scale": {"domain": [0, 1], "nice": false}, "axis": {"values": [0,0.2,0.4,0.6,0.8,1], "labelExpr": "format(datum.value, '.1f')", "title": "weight stacked"}},
"color": {"field": "s", "type": "nominal", "scale": {"domain": ["a","b","c","d","e","f","g","h","i","j","k","l"], "range": ["#1f77b4","#ff7f0e","#2ca02c","#d62728","#9467bd","#8c564b","#e377c2","#7f7f7f","#bcbd22","#17becf","#1f77b4","#ff7f0e"]}, "legend": {"title": null, "labelExpr": "indexof('abcdefghijkl', datum.label)"}},
"order": {"field": "s", "type": "ordinal", "sort": "ascending"}
}
}
]
},
{
"spacing": 102,
"bounds": "flush",
"resolve": {"scale": {"color": "independent"}, "legend": {"color": "independent"}},
"hconcat": [
{
"width": 492, "height": 151,
"title": {"text": "(c) Six classifiers attacked at 50th batch", "dx": -30},
"transform": [
{"filter": {"or": [{"field": "p", "equal": "c"}, {"and": [{"field": "p", "equal": "a"}, {"field": "t", "lte": 48}]}]}},
{"fold": ["a","b","c","d","e","f","g","h","i","j","k","l"], "as": ["s","w"]},
{"filter": {"field": "w", "valid": true}}
],
"mark": {"type": "area", "clip": true},
"encoding": {
"x": {"field": "t", "type": "quantitative", "scale": {"domain": [0, 399], "nice": false, "zero": false}, "axis": {"values": [0,50,100,150,200,250,300,350], "title": "number of epochs"}},
"y": {"field": "w", "type": "quantitative", "stack": "normalize", "scale": {"domain": [0, 1], "nice": false}, "axis": {"values": [0,0.2,0.4,0.6,0.8,1], "labelExpr": "format(datum.value, '.1f')", "title": "weight stacked"}},
"color": {"field": "s", "type": "nominal", "scale": {"domain": ["a","b","c","d","e","f","g","h","i","j","k","l"], "range": ["#1f77b4","#ff7f0e","#2ca02c","#d62728","#9467bd","#8c564b","#e377c2","#7f7f7f","#bcbd22","#17becf","#1f77b4","#ff7f0e"]}, "legend": {"title": null, "labelExpr": "indexof('abcdefghijkl', datum.label)"}},
"order": {"field": "s", "type": "ordinal", "sort": "ascending"}
}
},
{
"width": 492, "height": 151,
"title": {"text": "(d) Nine classifiers attacked at 50th batch", "dx": -7},
"transform": [
{"filter": {"or": [{"field": "p", "equal": "d"}, {"and": [{"field": "p", "equal": "a"}, {"field": "t", "lte": 48}]}]}},
{"fold": ["a","b","c","d","e","f","g","h","i","j","k","l"], "as": ["s","w"]},
{"filter": {"field": "w", "valid": true}}
],
"mark": {"type": "area", "clip": true},
"encoding": {
"x": {"field": "t", "type": "quantitative", "scale": {"domain": [0, 399], "nice": false, "zero": false}, "axis": {"values": [0,50,100,150,200,250,300,350], "title": "number of epochs"}},
"y": {"field": "w", "type": "quantitative", "stack": "normalize", "scale": {"domain": [0, 1], "nice": false}, "axis": {"values": [0,0.2,0.4,0.6,0.8,1], "labelExpr": "format(datum.value, '.1f')", "title": "weight stacked"}},
"color": {"field": "s", "type": "nominal", "scale": {"domain": ["a","b","c","d","e","f","g","h","i","j","k","l"], "range": ["#1f77b4","#ff7f0e","#2ca02c","#d62728","#9467bd","#8c564b","#e377c2","#7f7f7f","#bcbd22","#17becf","#1f77b4","#ff7f0e"]}, "legend": {"title": null, "labelExpr": "indexof('abcdefghijkl', datum.label)"}},
"order": {"field": "s", "type": "ordinal", "sort": "ascending"}
}
}
]
}
],
"config": {
"font": "DejaVu Sans",
"view": {"stroke": "#d4d4d4", "strokeWidth": 1},
"axis": {"grid": false, "ticks": false, "domain": false, "labelFont": "DejaVu Sans", "labelFontSize": 4, "labelColor": "#666666", "titleFont": "DejaVu Sans", "titleFontSize": 11, "titleFontWeight": "normal", "titleColor": "#262626"},
"axisX": {"labelAngle": -40, "labelPadding": 3, "titlePadding": 0},
"axisY": {"labelPadding": 2, "minExtent": 8, "maxExtent": 8, "titlePadding": 3, "labelFlush": true, "labelFlushOffset": 0},
"legend": {"orient": "top-right", "offset": 3, "padding": 2.5, "fillColor": "rgba(255,255,255,0.85)", "strokeColor": "#cccccc", "cornerRadius": 1.5, "labelFont": "DejaVu Sans", "labelFontSize": 5, "labelColor": "#333333", "symbolType": "M-2,-0.7L2,-0.7L2,0.7L-2,0.7Z", "symbolSize": 16, "symbolStrokeWidth": 0, "rowPadding": 0.2, "labelOffset": 6},
"title": {"orient": "bottom", "anchor": "middle", "frame": "group", "font": "DejaVu Serif", "fontSize": 20, "fontWeight": "normal", "color": "#000000", "offset": 26}
}
}
